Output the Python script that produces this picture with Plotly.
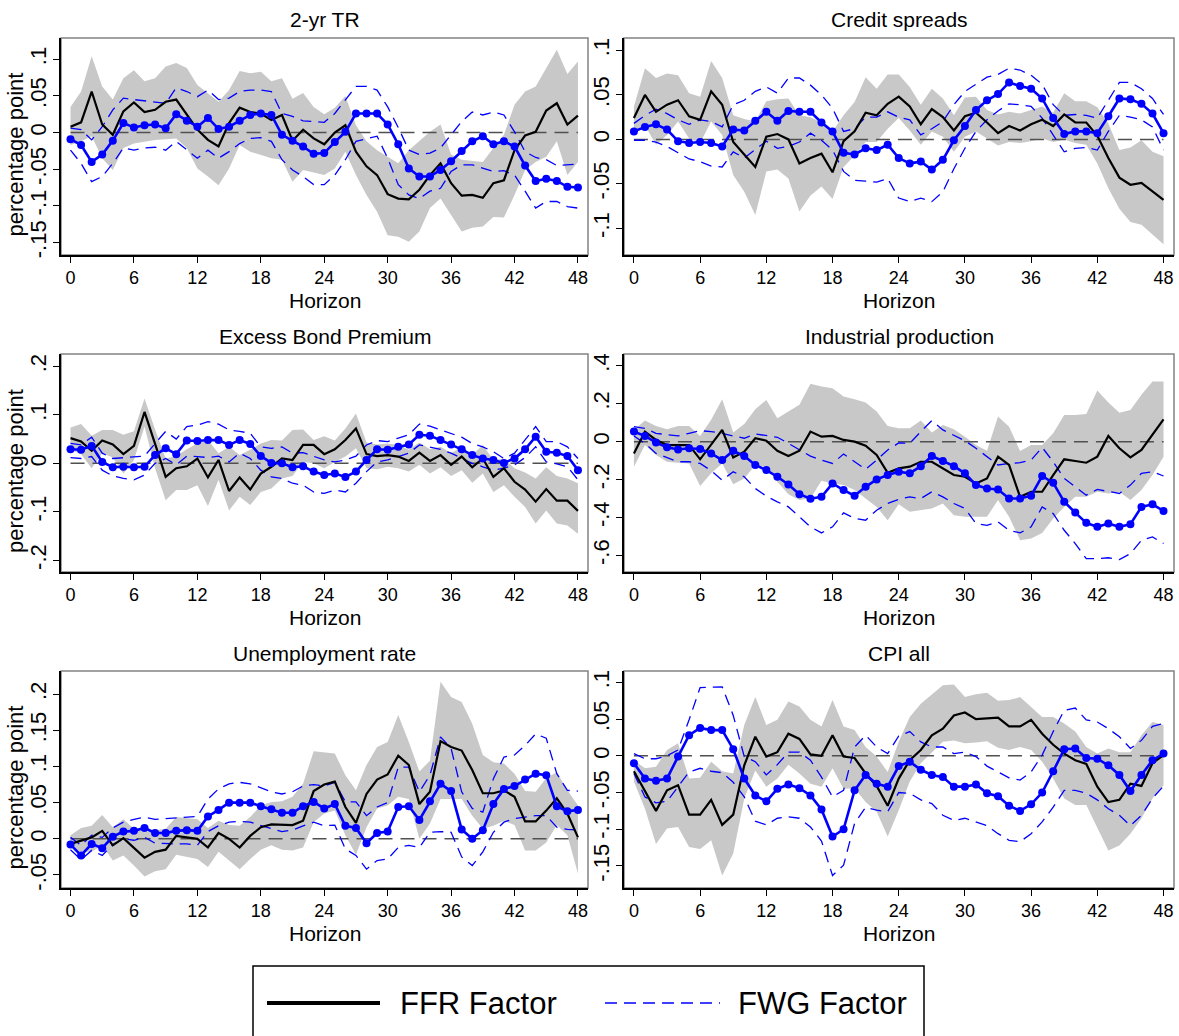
import plotly.graph_objects as go

horizon = list(range(49))
x_ticks = [0, 6, 12, 18, 24, 30, 36, 42, 48]

titles = ["2-yr TR", "Credit spreads", "Excess Bond Premium", "Industrial production",
          "Unemployment rate", "CPI all"]

# ---------------- 2-yr TR ----------------
tr2_ffr = [0.008, 0.014, 0.056, 0.011, -0.003, 0.029, 0.041, 0.028, 0.031, 0.042,
           0.045, 0.024, 0.004, -0.010, -0.019, 0.013, 0.034, 0.028, 0.026, 0.017,
           0.024, -0.011, 0.004, -0.008, -0.016, 0.000, 0.010, -0.026, -0.046, -0.058,
           -0.084, -0.090, -0.091, -0.078, -0.058, -0.042, -0.069, -0.086, -0.085, -0.089,
           -0.069, -0.065, -0.024, -0.004, 0.001, 0.030, 0.040, 0.011, 0.023]
tr2_ffr_hi = [0.035, 0.056, 0.104, 0.063, 0.045, 0.074, 0.085, 0.070, 0.074, 0.090,
              0.095, 0.088, 0.065, 0.054, 0.042, 0.058, 0.084, 0.081, 0.083, 0.070,
              0.074, 0.046, 0.054, 0.035, 0.025, 0.034, 0.050, 0.010, -0.012, -0.024,
              -0.033, -0.042, -0.024, -0.012, 0.001, 0.011, -0.030, -0.037, -0.039, -0.040,
              -0.021, -0.003, 0.038, 0.056, 0.063, 0.088, 0.113, 0.080, 0.097]
tr2_ffr_lo = [-0.017, -0.012, -0.005, -0.035, -0.051, -0.021, -0.015, -0.012, -0.010, -0.009,
              -0.008, -0.021, -0.049, -0.060, -0.072, -0.049, -0.017, -0.026, -0.030, -0.035,
              -0.037, -0.067, -0.051, -0.055, -0.058, -0.049, -0.026, -0.058, -0.085, -0.108,
              -0.140, -0.142, -0.149, -0.135, -0.103, -0.090, -0.112, -0.135, -0.130, -0.128,
              -0.115, -0.116, -0.085, -0.051, -0.040, -0.033, -0.012, -0.058, -0.040]
tr2_fwg = [-0.009, -0.017, -0.040, -0.030, -0.011, 0.013, 0.007, 0.010, 0.011, 0.006,
           0.025, 0.016, 0.008, 0.020, 0.005, 0.008, 0.016, 0.024, 0.026, 0.024,
           -0.003, -0.011, -0.019, -0.029, -0.028, -0.013, 0.001, 0.026, 0.026, 0.026,
           0.011, -0.016, -0.049, -0.060, -0.060, -0.051, -0.039, -0.025, -0.012, -0.005,
           -0.016, -0.012, -0.019, -0.045, -0.066, -0.063, -0.066, -0.074, -0.075]
tr2_fwg_hi = [0.006, 0.004, -0.010, 0.008, 0.031, 0.047, 0.045, 0.043, 0.042, 0.040,
              0.061, 0.056, 0.049, 0.058, 0.045, 0.047, 0.056, 0.058, 0.058, 0.056,
              0.026, 0.022, 0.016, 0.015, 0.014, 0.026, 0.045, 0.063, 0.063, 0.058,
              0.035, 0.007, -0.024, -0.030, -0.028, -0.021, -0.003, 0.015, 0.028, 0.024,
              0.028, 0.024, 0.001, -0.026, -0.034, -0.037, -0.045, -0.044, -0.043]
tr2_fwg_lo = [-0.024, -0.042, -0.067, -0.060, -0.042, -0.021, -0.024, -0.021, -0.020, -0.024,
              -0.012, -0.024, -0.035, -0.024, -0.035, -0.026, -0.015, -0.008, -0.007, -0.012,
              -0.037, -0.051, -0.060, -0.071, -0.071, -0.058, -0.037, -0.012, -0.009, -0.005,
              -0.035, -0.071, -0.085, -0.090, -0.080, -0.076, -0.053, -0.044, -0.044, -0.049,
              -0.053, -0.052, -0.058, -0.080, -0.103, -0.094, -0.094, -0.101, -0.103]

# ---------------- Credit spreads ----------------
cs_ffr = [0.024, 0.050, 0.031, 0.039, 0.044, 0.026, 0.022, 0.054, 0.039, -0.003,
          -0.017, -0.031, 0.003, 0.006, 0.000, -0.027, -0.021, -0.016, -0.037, -0.002,
          0.009, 0.030, 0.027, 0.040, 0.048, 0.037, 0.017, 0.034, 0.025, 0.010,
          0.026, 0.030, 0.019, 0.007, 0.015, 0.010, 0.017, 0.022, 0.015, 0.028,
          0.019, 0.019, 0.004, -0.021, -0.043, -0.051, -0.049, -0.059, -0.068]
cs_ffr_hi = [0.037, 0.080, 0.069, 0.074, 0.072, 0.052, 0.048, 0.088, 0.069, 0.027,
             0.023, 0.020, 0.043, 0.045, 0.046, 0.027, 0.025, 0.019, 0.009, 0.027,
             0.042, 0.070, 0.057, 0.073, 0.073, 0.059, 0.039, 0.057, 0.046, 0.027,
             0.047, 0.048, 0.033, 0.028, 0.031, 0.029, 0.033, 0.037, 0.030, 0.052,
             0.043, 0.043, 0.036, 0.018, -0.012, -0.009, -0.001, -0.014, -0.019]
cs_ffr_lo = [0.010, 0.016, -0.006, 0.005, 0.020, 0.001, -0.004, 0.020, 0.005, -0.040,
             -0.059, -0.085, -0.036, -0.034, -0.044, -0.081, -0.063, -0.053, -0.067, -0.031,
             -0.018, -0.003, -0.003, 0.012, 0.024, 0.010, -0.006, 0.009, 0.003, -0.014,
             0.003, 0.009, 0.001, -0.007, -0.003, -0.004, -0.002, 0.001, -0.003, 0.000,
             -0.004, -0.006, -0.027, -0.055, -0.078, -0.093, -0.096, -0.107, -0.118]
cs_fwg = [0.009, 0.014, 0.017, 0.011, -0.002, -0.004, -0.003, -0.004, -0.008, 0.011,
          0.010, 0.021, 0.031, 0.021, 0.032, 0.031, 0.031, 0.019, 0.009, -0.015,
          -0.017, -0.010, -0.012, -0.006, -0.021, -0.027, -0.025, -0.034, -0.023, -0.001,
          0.015, 0.033, 0.044, 0.051, 0.064, 0.060, 0.057, 0.046, 0.024, 0.006,
          0.009, 0.009, 0.007, 0.026, 0.046, 0.045, 0.040, 0.029, 0.007]
cs_fwg_hi = [0.018, 0.027, 0.034, 0.029, 0.022, 0.017, 0.022, 0.020, 0.014, 0.039,
             0.044, 0.054, 0.059, 0.052, 0.069, 0.069, 0.061, 0.050, 0.035, 0.009,
             0.012, 0.025, 0.025, 0.031, 0.025, 0.022, 0.005, 0.012, 0.020, 0.039,
             0.054, 0.062, 0.070, 0.073, 0.080, 0.078, 0.072, 0.062, 0.039, 0.027,
             0.028, 0.027, 0.024, 0.044, 0.064, 0.064, 0.057, 0.046, 0.028]
cs_fwg_lo = [-0.001, -0.001, -0.003, -0.008, -0.015, -0.022, -0.025, -0.030, -0.031, -0.014,
             -0.021, -0.012, -0.002, -0.010, -0.008, -0.003, 0.007, -0.001, -0.012, -0.036,
             -0.046, -0.047, -0.048, -0.044, -0.066, -0.070, -0.066, -0.070, -0.059, -0.033,
             -0.010, 0.009, 0.022, 0.032, 0.040, 0.039, 0.037, 0.024, 0.005, -0.014,
             -0.010, -0.009, -0.012, 0.009, 0.027, 0.025, 0.022, 0.014, -0.012]

# ---------------- Excess Bond Premium ----------------
ebp_ffr = [0.052, 0.045, 0.026, 0.047, 0.039, 0.019, 0.036, 0.106, 0.040, -0.028,
           -0.010, -0.006, 0.010, -0.029, 0.007, -0.057, -0.029, -0.054, -0.021, -0.007,
           0.010, 0.007, 0.038, 0.038, 0.019, 0.029, 0.048, 0.072, 0.019, 0.015,
           0.017, 0.014, 0.005, 0.022, 0.005, 0.017, -0.003, 0.014, -0.008, 0.010,
           -0.028, -0.010, -0.038, -0.054, -0.079, -0.053, -0.077, -0.077, -0.098]
ebp_ffr_hi = [0.074, 0.081, 0.057, 0.069, 0.069, 0.059, 0.066, 0.134, 0.070, 0.010,
              0.015, 0.029, 0.041, 0.048, 0.021, 0.034, 0.017, 0.028, 0.041, 0.048,
              0.047, 0.069, 0.070, 0.048, 0.056, 0.047, 0.072, 0.103, 0.043, 0.039,
              0.041, 0.038, 0.028, 0.043, 0.029, 0.034, 0.021, 0.034, 0.017, 0.038,
              0.007, 0.010, -0.010, -0.019, -0.031, -0.008, -0.026, -0.031, -0.041]
ebp_ffr_lo = [0.028, 0.019, -0.010, 0.021, 0.012, -0.021, 0.007, 0.076, -0.010, -0.076,
              -0.055, -0.055, -0.045, -0.088, -0.034, -0.097, -0.069, -0.086, -0.059, -0.052,
              -0.031, -0.026, 0.003, 0.000, -0.010, 0.003, 0.014, 0.031, -0.010, -0.012,
              -0.007, -0.010, -0.017, -0.003, -0.021, -0.008, -0.026, -0.014, -0.040, -0.021,
              -0.059, -0.045, -0.069, -0.090, -0.124, -0.097, -0.124, -0.128, -0.145]
ebp_fwg = [0.029, 0.028, 0.036, 0.003, -0.008, -0.007, -0.008, -0.007, 0.017, 0.031,
           0.019, 0.047, 0.046, 0.048, 0.048, 0.038, 0.048, 0.040, 0.015, 0.001,
           0.000, -0.008, -0.006, -0.017, -0.024, -0.021, -0.028, -0.017, 0.007, 0.029,
           0.028, 0.034, 0.039, 0.059, 0.057, 0.048, 0.039, 0.029, 0.017, 0.010,
           0.007, 0.001, 0.010, 0.029, 0.055, 0.024, 0.022, 0.015, -0.014]
ebp_fwg_hi = [0.041, 0.038, 0.054, 0.021, 0.010, 0.012, 0.014, 0.015, 0.041, 0.066,
              0.050, 0.076, 0.079, 0.086, 0.081, 0.069, 0.066, 0.062, 0.034, 0.031,
              0.034, 0.021, 0.022, 0.014, 0.007, 0.003, 0.007, 0.015, 0.038, 0.047,
              0.045, 0.052, 0.059, 0.081, 0.077, 0.069, 0.062, 0.054, 0.041, 0.034,
              0.024, 0.010, 0.021, 0.048, 0.076, 0.045, 0.045, 0.034, 0.010]
ebp_fwg_lo = [0.012, 0.010, 0.014, -0.014, -0.026, -0.031, -0.034, -0.024, 0.000, 0.010,
              -0.003, 0.015, 0.014, 0.012, 0.015, 0.003, 0.021, 0.010, -0.014, -0.028,
              -0.031, -0.041, -0.045, -0.059, -0.062, -0.055, -0.059, -0.041, -0.017, 0.003,
              0.007, 0.014, 0.021, 0.038, 0.034, 0.029, 0.021, 0.010, 0.000, -0.007,
              -0.014, -0.010, -0.003, 0.012, 0.034, 0.003, -0.001, -0.007, -0.034]

# ---------------- Industrial production ----------------
ip_ffr = [-0.062, 0.053, 0.009, -0.018, -0.018, -0.018, -0.093, -0.018, 0.062, -0.083,
          -0.053, 0.018, 0.005, -0.048, -0.076, -0.048, 0.053, 0.026, 0.030, 0.009,
          0.000, -0.021, -0.070, -0.164, -0.141, -0.132, -0.106, -0.106, -0.141, -0.176,
          -0.185, -0.220, -0.194, -0.079, -0.123, -0.291, -0.264, -0.264, -0.176, -0.093,
          -0.102, -0.111, -0.079, 0.030, -0.035, -0.083, -0.044, 0.035, 0.118]
ip_ffr_hi = [0.062, 0.111, 0.083, 0.065, 0.083, 0.083, 0.030, 0.115, 0.224, 0.048,
             0.093, 0.171, 0.220, 0.123, 0.159, 0.194, 0.305, 0.291, 0.282, 0.238,
             0.224, 0.206, 0.159, 0.083, 0.070, 0.070, 0.111, 0.048, 0.088, 0.065,
             0.026, -0.018, -0.048, 0.132, 0.079, -0.049, -0.018, -0.018, 0.044, 0.141,
             0.141, 0.146, 0.270, 0.206, 0.153, 0.167, 0.247, 0.317, 0.317]
ip_ffr_lo = [-0.132, -0.018, -0.070, -0.106, -0.111, -0.115, -0.234, -0.167, -0.115, -0.224,
             -0.194, -0.123, -0.132, -0.211, -0.277, -0.308, -0.300, -0.206, -0.220, -0.229,
             -0.255, -0.300, -0.344, -0.414, -0.330, -0.370, -0.360, -0.352, -0.326, -0.388,
             -0.396, -0.396, -0.396, -0.308, -0.396, -0.520, -0.511, -0.481, -0.405, -0.344,
             -0.291, -0.291, -0.264, -0.273, -0.264, -0.308, -0.255, -0.176, -0.079]
ip_fwg = [0.053, 0.030, -0.005, -0.030, -0.041, -0.035, -0.039, -0.062, -0.097, -0.048,
          -0.076, -0.123, -0.150, -0.185, -0.226, -0.277, -0.301, -0.291, -0.220, -0.255,
          -0.285, -0.238, -0.199, -0.176, -0.159, -0.167, -0.129, -0.076, -0.102, -0.129,
          -0.167, -0.229, -0.247, -0.252, -0.300, -0.300, -0.285, -0.181, -0.217, -0.317,
          -0.374, -0.428, -0.449, -0.432, -0.449, -0.435, -0.344, -0.330, -0.365]
ip_fwg_hi = [0.079, 0.070, 0.044, 0.035, 0.030, 0.044, 0.058, 0.053, 0.044, 0.030,
             0.018, 0.041, 0.030, 0.023, -0.009, -0.041, -0.076, -0.097, -0.115, -0.065,
             -0.106, -0.146, -0.097, -0.044, -0.007, -0.009, 0.053, 0.111, 0.062, 0.035,
             0.005, -0.035, -0.079, -0.123, -0.115, -0.111, -0.097, -0.030, -0.106, -0.194,
             -0.238, -0.282, -0.252, -0.264, -0.273, -0.229, -0.167, -0.159, -0.181]
ip_fwg_lo = [0.030, -0.009, -0.062, -0.083, -0.106, -0.106, -0.115, -0.153, -0.203, -0.159,
             -0.185, -0.247, -0.287, -0.317, -0.344, -0.396, -0.449, -0.481, -0.449, -0.375,
             -0.405, -0.414, -0.361, -0.326, -0.304, -0.291, -0.300, -0.264, -0.291, -0.326,
             -0.352, -0.432, -0.441, -0.423, -0.467, -0.481, -0.449, -0.344, -0.379, -0.467,
             -0.537, -0.617, -0.617, -0.612, -0.622, -0.590, -0.520, -0.502, -0.537]

# ---------------- Unemployment rate ----------------
ur_ffr = [-0.007, -0.003, 0.002, 0.011, -0.009, 0.001, -0.013, -0.026, -0.018, -0.015,
          0.004, 0.002, 0.000, -0.012, 0.008, 0.000, -0.012, 0.004, 0.016, 0.020,
          0.019, 0.019, 0.025, 0.066, 0.075, 0.079, 0.044, 0.022, 0.062, 0.082,
          0.089, 0.115, 0.102, 0.048, 0.065, 0.135, 0.127, 0.122, 0.095, 0.063,
          0.063, 0.067, 0.058, 0.024, 0.024, 0.039, 0.056, 0.035, 0.002]
ur_ffr_hi = [0.005, 0.015, 0.018, 0.033, 0.016, 0.027, 0.014, 0.009, 0.012, 0.014,
             0.030, 0.028, 0.027, 0.015, 0.025, 0.019, 0.018, 0.030, 0.046, 0.051,
             0.052, 0.058, 0.076, 0.121, 0.119, 0.118, 0.088, 0.067, 0.102, 0.127,
             0.134, 0.171, 0.134, 0.093, 0.108, 0.217, 0.196, 0.189, 0.159, 0.116,
             0.106, 0.104, 0.090, 0.066, 0.065, 0.084, 0.092, 0.067, 0.046]
ur_ffr_lo = [-0.012, -0.018, -0.018, -0.009, -0.030, -0.023, -0.037, -0.052, -0.045, -0.042,
             -0.022, -0.025, -0.028, -0.039, -0.018, -0.030, -0.042, -0.028, -0.015, -0.009,
             -0.015, -0.016, -0.012, 0.023, 0.035, 0.039, 0.005, -0.022, 0.016, 0.042,
             0.046, 0.058, 0.055, 0.000, 0.021, 0.055, 0.055, 0.055, 0.032, 0.014,
             0.018, 0.025, 0.019, -0.016, -0.016, -0.005, 0.019, 0.005, -0.048]
ur_fwg = [-0.008, -0.023, -0.007, -0.013, 0.003, 0.010, 0.011, 0.015, 0.008, 0.008,
          0.011, 0.012, 0.011, 0.031, 0.040, 0.050, 0.050, 0.050, 0.045, 0.041,
          0.036, 0.036, 0.045, 0.051, 0.042, 0.048, 0.018, 0.015, -0.006, 0.008,
          0.010, 0.044, 0.045, 0.026, 0.052, 0.076, 0.066, 0.013, 0.000, 0.012,
          0.048, 0.069, 0.073, 0.082, 0.090, 0.088, 0.045, 0.038, 0.040]
ur_fwg_hi = [0.002, -0.009, 0.005, 0.002, 0.015, 0.023, 0.027, 0.030, 0.027, 0.028,
             0.029, 0.030, 0.031, 0.055, 0.069, 0.076, 0.078, 0.076, 0.070, 0.065,
             0.062, 0.065, 0.073, 0.075, 0.073, 0.078, 0.051, 0.051, 0.032, 0.044,
             0.050, 0.099, 0.099, 0.065, 0.088, 0.141, 0.125, 0.065, 0.042, 0.037,
             0.083, 0.113, 0.116, 0.129, 0.145, 0.139, 0.090, 0.067, 0.066]
ur_fwg_lo = [-0.015, -0.029, -0.016, -0.023, -0.008, 0.000, -0.002, 0.002, -0.006, -0.007,
             -0.007, -0.007, -0.009, 0.010, 0.018, 0.023, 0.024, 0.023, 0.018, 0.014,
             0.010, 0.012, 0.018, 0.023, 0.018, 0.019, -0.014, -0.023, -0.042, -0.030,
             -0.028, -0.012, -0.009, -0.012, 0.009, 0.010, 0.009, -0.025, -0.037, -0.018,
             0.009, 0.023, 0.028, 0.030, 0.032, 0.032, 0.016, 0.013, 0.012]

# ---------------- CPI all ----------------
cpi_ffr = [-0.021, -0.047, -0.075, -0.047, -0.040, -0.080, -0.080, -0.060, -0.094, -0.080,
           -0.013, 0.026, -0.001, 0.005, 0.030, 0.023, 0.002, 0.000, 0.028, -0.001,
           -0.003, -0.024, -0.041, -0.068, -0.031, -0.006, 0.008, 0.028, 0.037, 0.055,
           0.059, 0.050, 0.051, 0.052, 0.040, 0.040, 0.049, 0.030, 0.015, 0.003,
           -0.006, -0.011, -0.042, -0.063, -0.060, -0.038, -0.041, -0.010, 0.001]
cpi_ffr_hi = [-0.006, -0.017, -0.015, 0.008, 0.017, -0.031, -0.030, -0.008, -0.021, -0.024,
              0.042, 0.080, 0.042, 0.049, 0.074, 0.067, 0.049, 0.040, 0.076, 0.040,
              0.035, 0.012, -0.001, -0.022, 0.019, 0.053, 0.071, 0.083, 0.096, 0.097,
              0.080, 0.084, 0.086, 0.075, 0.076, 0.080, 0.067, 0.053, 0.053, 0.044,
              0.033, 0.012, 0.003, 0.010, 0.005, 0.005, 0.028, 0.046, 0.042]
cpi_ffr_lo = [-0.035, -0.072, -0.120, -0.099, -0.097, -0.124, -0.127, -0.115, -0.163, -0.133,
              -0.058, -0.020, -0.042, -0.031, -0.012, -0.024, -0.038, -0.042, -0.017, -0.045,
              -0.044, -0.063, -0.076, -0.110, -0.074, -0.035, -0.010, 0.005, 0.019, 0.021,
              0.017, 0.018, 0.020, 0.011, 0.008, 0.012, 0.008, -0.008, -0.031, -0.058,
              -0.067, -0.067, -0.099, -0.129, -0.122, -0.106, -0.085, -0.058, -0.040]
cpi_fwg = [-0.010, -0.031, -0.034, -0.031, -0.001, 0.028, 0.038, 0.035, 0.035, 0.009,
           -0.031, -0.054, -0.062, -0.045, -0.039, -0.044, -0.054, -0.073, -0.110, -0.100,
           -0.047, -0.026, -0.038, -0.042, -0.014, -0.008, -0.019, -0.026, -0.029, -0.042,
           -0.042, -0.039, -0.051, -0.055, -0.068, -0.075, -0.066, -0.050, -0.021, 0.009,
           0.010, -0.003, -0.004, -0.013, -0.026, -0.048, -0.026, -0.006, 0.003]
cpi_fwg_hi = [0.003, -0.004, -0.004, 0.000, 0.008, 0.049, 0.093, 0.093, 0.094, 0.055,
              -0.001, -0.008, -0.026, -0.012, 0.005, 0.005, -0.006, -0.029, -0.056, -0.047,
              0.012, 0.028, 0.012, 0.003, 0.027, 0.033, 0.019, 0.012, 0.012, 0.003,
              0.005, -0.001, -0.014, -0.022, -0.030, -0.033, -0.022, 0.001, 0.033, 0.062,
              0.065, 0.049, 0.046, 0.037, 0.026, 0.010, 0.021, 0.040, 0.044]
cpi_fwg_lo = [-0.024, -0.056, -0.064, -0.062, -0.042, -0.022, -0.017, -0.021, -0.023, -0.036,
              -0.056, -0.089, -0.094, -0.085, -0.083, -0.085, -0.097, -0.116, -0.163, -0.149,
              -0.092, -0.070, -0.074, -0.076, -0.050, -0.051, -0.060, -0.065, -0.081, -0.088,
              -0.085, -0.090, -0.095, -0.106, -0.115, -0.117, -0.106, -0.090, -0.070, -0.047,
              -0.047, -0.051, -0.060, -0.072, -0.081, -0.095, -0.081, -0.058, -0.041]

# y tick values / labels per panel
tr2_ticks = [-0.15, -0.1, -0.05, 0, 0.05, 0.1]
tr2_labels = ["-.15", "-.1", "-.05", "0", ".05", ".1"]
cs_ticks = [-0.1, -0.05, 0, 0.05, 0.1]
cs_labels = ["-.1", "-.05", "0", ".05", ".1"]
ebp_ticks = [-0.2, -0.1, 0, 0.1, 0.2]
ebp_labels = ["-.2", "-.1", "0", ".1", ".2"]
ip_ticks = [-0.6, -0.4, -0.2, 0, 0.2, 0.4]
ip_labels = ["-.6", "-.4", "-.2", "0", ".2", ".4"]
ur_ticks = [-0.05, 0, 0.05, 0.1, 0.15, 0.2]
ur_labels = ["-.05", "0", ".05", ".1", ".15", ".2"]
cpi_ticks = [-0.15, -0.1, -0.05, 0, 0.05, 0.1]
cpi_labels = ["-.15", "-.1", "-.05", "0", ".05", ".1"]

legend_names = ["FFR Factor", "FWG Factor"]

panels = [
    dict(ffr=tr2_ffr, hi=tr2_ffr_hi, lo=tr2_ffr_lo, fwg=tr2_fwg, fhi=tr2_fwg_hi, flo=tr2_fwg_lo,
         ticks=tr2_ticks, labels=tr2_labels, yr=[-0.167, 0.129]),
    dict(ffr=cs_ffr, hi=cs_ffr_hi, lo=cs_ffr_lo, fwg=cs_fwg, fhi=cs_fwg_hi, flo=cs_fwg_lo,
         ticks=cs_ticks, labels=cs_labels, yr=[-0.130, 0.114]),
    dict(ffr=ebp_ffr, hi=ebp_ffr_hi, lo=ebp_ffr_lo, fwg=ebp_fwg, fhi=ebp_fwg_hi, flo=ebp_fwg_lo,
         ticks=ebp_ticks, labels=ebp_labels, yr=[-0.224, 0.2255]),
    dict(ffr=ip_ffr, hi=ip_ffr_hi, lo=ip_ffr_lo, fwg=ip_fwg, fhi=ip_fwg_hi, flo=ip_fwg_lo,
         ticks=ip_ticks, labels=ip_labels, yr=[-0.687, 0.462]),
    dict(ffr=ur_ffr, hi=ur_ffr_hi, lo=ur_ffr_lo, fwg=ur_fwg, fhi=ur_fwg_hi, flo=ur_fwg_lo,
         ticks=ur_ticks, labels=ur_labels, yr=[-0.068, 0.232]),
    dict(ffr=cpi_ffr, hi=cpi_ffr_hi, lo=cpi_ffr_lo, fwg=cpi_fwg, fhi=cpi_fwg_hi, flo=cpi_fwg_lo,
         ticks=cpi_ticks, labels=cpi_labels, yr=[-0.180, 0.1155]),
]

W, H = 1179, 1036
FONT = "Liberation Sans, Arial, Helvetica, sans-serif"
NARROW = "Liberation Sans Narrow, Arial Narrow, Liberation Sans, sans-serif"
col_px = [(61, 588), (624, 1174)]
row_px = [(38, 255), (354, 572), (671, 888)]

fig = go.Figure()
layout = dict(width=W, height=H, margin=dict(l=0, r=0, t=0, b=0),
              paper_bgcolor="white", plot_bgcolor="white", showlegend=False,
              font=dict(family=FONT, color="black"))
annotations = []
shapes = []
zeros = [0 for _ in horizon]

for i, p in enumerate(panels):
    r, c = divmod(i, 2)
    n = "" if i == 0 else str(i + 1)
    xa, ya = "x" + n, "y" + n
    x0p, x1p = col_px[c]
    y0p, y1p = row_px[r]
    xdom = [x0p / W, x1p / W]
    ydom = [1 - y1p / H, 1 - y0p / H]

    fig.add_trace(go.Scatter(x=horizon, y=p["lo"], mode="lines", line=dict(width=0),
                             xaxis=xa, yaxis=ya, hoverinfo="skip"))
    fig.add_trace(go.Scatter(x=horizon, y=p["hi"], mode="lines", line=dict(width=0),
                             fill="tonexty", fillcolor="rgb(200,200,200)",
                             xaxis=xa, yaxis=ya, hoverinfo="skip"))
    fig.add_trace(go.Scatter(x=horizon, y=zeros, mode="lines",
                             line=dict(color="rgb(80,80,80)", width=1.5, dash="14px,8px"),
                             xaxis=xa, yaxis=ya, hoverinfo="skip"))
    for band in ("fhi", "flo"):
        fig.add_trace(go.Scatter(x=horizon, y=p[band], mode="lines",
                                 line=dict(color="#0000ff", width=1.3, dash="11px,7px"),
                                 xaxis=xa, yaxis=ya))
    fig.add_trace(go.Scatter(x=horizon, y=p["ffr"], mode="lines", name=legend_names[0],
                             line=dict(color="black", width=2.2), xaxis=xa, yaxis=ya))
    fig.add_trace(go.Scatter(x=horizon, y=p["fwg"], mode="lines+markers", name=legend_names[1],
                             line=dict(color="#0000ff", width=2.6),
                             marker=dict(color="#0000ff", size=8),
                             xaxis=xa, yaxis=ya))

    layout["xaxis" + n] = dict(domain=xdom, anchor=ya, range=[-0.9, 48.95],
                               tickmode="array", tickvals=x_ticks,
                               ticktext=[str(v) for v in x_ticks],
                               ticks="outside", ticklen=6, tickwidth=1.2, tickcolor="black",
                               showline=True, linecolor="black", linewidth=1.5,
                               showgrid=False, zeroline=False,
                               tickfont=dict(size=18, family=FONT), automargin=False)
    layout["yaxis" + n] = dict(domain=ydom, anchor=xa, range=p["yr"],
                               tickmode="array", tickvals=p["ticks"], ticktext=p["labels"],
                               tickangle=-90, ticklabelstandoff=-2,
                               ticks="outside", ticklen=6, tickwidth=1.2, tickcolor="black",
                               showline=True, linecolor="black", linewidth=1.5,
                               showgrid=False, zeroline=False,
                               tickfont=dict(size=22, family=NARROW), automargin=False)
    shapes.append(dict(type="rect", xref=xa + " domain", yref=ya + " domain",
                       x0=0, x1=1, y0=0, y1=1, line=dict(color="rgb(130,130,130)", width=1.5),
                       layer="below"))
    cx = (x0p + x1p) / 2 / W
    annotations.append(dict(text=titles[i], x=cx, y=1 - (y0p - 18) / H, xref="paper", yref="paper",
                            showarrow=False, xanchor="center", yanchor="middle",
                            font=dict(size=21, family=FONT)))
    annotations.append(dict(text="Horizon", x=cx, y=1 - (y1p + 45) / H, xref="paper", yref="paper",
                            showarrow=False, xanchor="center", yanchor="middle",
                            font=dict(size=21, family=FONT)))
    if c == 0:
        annotations.append(dict(text="percentage point", x=15 / W, y=1 - ((y0p + y1p) / 2 + 8) / H,
                                xref="paper", yref="paper", showarrow=False, textangle=-90,
                                xanchor="center", yanchor="middle",
                                font=dict(size=22, family=FONT)))

# legend box drawn manually
shapes.append(dict(type="rect", xref="paper", yref="paper", x0=253 / W, x1=924 / W,
                   y0=-0.01, y1=1 - 966 / H, line=dict(color="black", width=1.5),
                   fillcolor="white", layer="above"))
ly = 1 - 1003 / H
shapes.append(dict(type="line", xref="paper", yref="paper", x0=267 / W, x1=380 / W, y0=ly, y1=ly,
                   line=dict(color="black", width=4)))
shapes.append(dict(type="line", xref="paper", yref="paper", x0=605 / W, x1=720 / W, y0=ly, y1=ly,
                   line=dict(color="#0000ff", width=1.5, dash="12px,7px")))
annotations.append(dict(text=legend_names[0], x=398 / W, y=ly, xref="paper", yref="paper",
                        showarrow=False, xanchor="left", yanchor="middle",
                        font=dict(size=31, family=FONT)))
annotations.append(dict(text=legend_names[1], x=736 / W, y=ly, xref="paper", yref="paper",
                        showarrow=False, xanchor="left", yanchor="middle",
                        font=dict(size=31, family=FONT)))

layout["annotations"] = annotations
layout["shapes"] = shapes
fig.update_layout(**layout)
fig.write_html("out.html")
